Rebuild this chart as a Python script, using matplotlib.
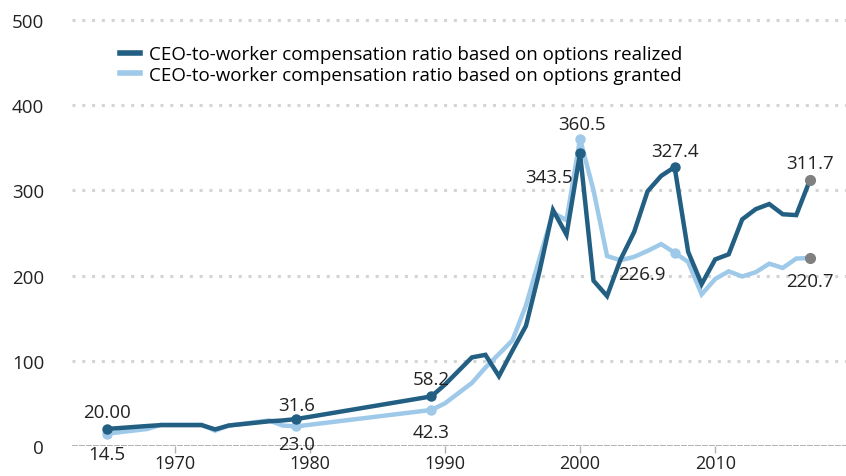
import matplotlib.pyplot as plt

plt.rcParams['font.family'] = ['Open Sans', 'DejaVu Sans']

# years shared by both series
years = [1965, 1968, 1969, 1972, 1973, 1974, 1977, 1978, 1979, 1989, 1990, 1991,
         1992, 1993, 1994, 1995, 1996, 1997, 1998, 1999, 2000, 2001, 2002, 2003,
         2004, 2005, 2006, 2007, 2008, 2009, 2010, 2011, 2012, 2013, 2014, 2015,
         2016, 2017]

realized = [20.0, 23.5, 24.5, 24.5, 19.5, 24.0, 29.0, 30.0, 31.6, 58.2, 72.0, 88.0,
            104.0, 107.0, 82.0, 112.0, 141.0, 205.0, 277.0, 248.0, 343.5, 194.0, 176.0, 219.0,
            251.0, 299.0, 317.0, 327.4, 228.0, 190.0, 219.0, 225.0, 266.0, 278.0, 284.0, 272.0,
            271.0, 311.7]

granted = [14.5, 20.0, 25.0, 25.0, 18.0, 24.0, 30.0, 24.0, 23.0, 42.3, 50.0, 62.0,
           74.0, 92.0, 108.0, 124.0, 165.0, 220.0, 274.0, 265.0, 360.5, 300.0, 223.0, 218.0,
           222.0, 229.0, 237.0, 226.9, 216.0, 178.0, 196.0, 205.0, 199.0, 204.0, 214.0, 209.0,
           220.0, 220.7]

marker_years = [1965, 1979, 1989, 2000, 2007]

# (year, series, text, dx px, dy px)
labels = [
    (1965, 'r', '20.00', 0, 17), (1965, 'g', '14.5', 0, -20),
    (1979, 'r', '31.6', 0, 14), (1979, 'g', '23.0', 0, -18),
    (1989, 'r', '58.2', 0, 17), (1989, 'g', '42.3', 0, -22),
    (2000, 'g', '360.5', 2, 15), (2000, 'r', '343.5', -31, -24),
    (2007, 'r', '327.4', 0, 16), (2007, 'g', '226.9', -33, -21),
    (2017, 'r', '311.7', 0, 17), (2017, 'g', '220.7', 0, -23),
]

dark = '#235f83'
light = '#9fc9e9'

fig = plt.figure(figsize=(8.46, 4.77), dpi=100)
ax = fig.add_axes([72 / 846, 30 / 477, 774 / 846, 426 / 477])

ax.set_xlim(1962.41, 2019.68)
ax.set_ylim(0, 500)

for v in [100, 200, 300, 400, 500]:
    ax.axhline(v, color='#d4d4d4', lw=2.2, linestyle=(0, (1, 2.2)), zorder=1, clip_on=False)
ax.axhline(0, color='#b0b0b0', lw=1.4, linestyle=(0, (3, 0.6)), zorder=1)

ax.plot(years, realized, color=dark, lw=3.2, zorder=3, solid_joinstyle='miter',
        label='CEO-to-worker compensation ratio based on options realized')
ax.plot(years, granted, color=light, lw=3.2, zorder=2, solid_joinstyle='miter',
        label='CEO-to-worker compensation ratio based on options granted')

mr = [realized[years.index(y)] for y in marker_years]
mg = [granted[years.index(y)] for y in marker_years]
ax.plot(marker_years, mr, 'o', color=dark, ms=6.5, zorder=4)
ax.plot(marker_years, mg, 'o', color=light, ms=6.5, zorder=3)
ax.plot([2017, 2017], [realized[-1], granted[-1]], 'o', color='#808080', ms=7, zorder=5)

for yr, s, txt, dx, dy in labels:
    val = realized[years.index(yr)] if s == 'r' else granted[years.index(yr)]
    ax.annotate(txt, (yr, val), xytext=(dx, dy), textcoords='offset pixels',
                ha='center', va='center', fontsize=13.5, color='#222222', zorder=6)

for sp in ax.spines.values():
    sp.set_visible(False)

ax.set_xticks([1970, 1980, 1990, 2000, 2010])
ax.set_yticks([0, 100, 200, 300, 400, 500])
ax.tick_params(axis='x', length=5, width=1, color='#b0b0b0', pad=1, labelsize=13,
               labelcolor='#222222')
ax.tick_params(axis='y', length=0, pad=20, labelsize=13.5, labelcolor='#222222')

leg = ax.legend(loc='upper left', bbox_to_anchor=(112 / 846, 1 - 39 / 477),
                bbox_transform=fig.transFigure, frameon=False, fontsize=13.5,
                handlelength=1.1, handletextpad=0.45, labelspacing=0.12, borderaxespad=0)
for line in leg.get_lines():
    line.set_linewidth(4)

fig.savefig('out.png', dpi=100)
